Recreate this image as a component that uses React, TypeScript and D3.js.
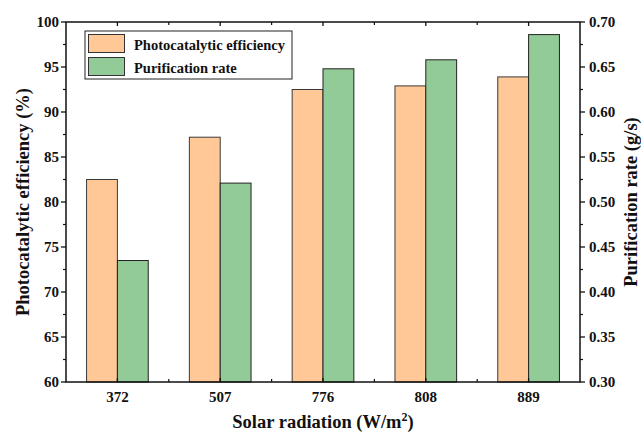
import React from "react";
import * as d3 from "d3";

const categories = ["372", "507", "776", "808", "889"];
const efficiency = [82.5, 87.2, 92.5, 92.9, 93.9];
const purification = [0.435, 0.521, 0.648, 0.658, 0.686];
const leftTicks = [60, 65, 70, 75, 80, 85, 90, 95, 100];
const rightTicks = [0.3, 0.35, 0.4, 0.45, 0.5, 0.55, 0.6, 0.65, 0.7];
const seriesNames = ["Photocatalytic efficiency", "Purification rate"];

const W = 641, H = 432;
const m = { left: 66, right: 580, top: 22, bottom: 382 };
const ORANGE = "#FFC896";
const GREEN = "#92CB98";
const FONT = "Liberation Serif";

export default function App() {
  const x = d3.scaleLinear().domain([0.5, 5.5]).range([m.left, m.right]);
  const yL = d3.scaleLinear().domain([60, 100]).range([m.bottom, m.top]);
  const yR = d3.scaleLinear().domain([0.3, 0.7]).range([m.bottom, m.top]);
  const band = x(2) - x(1);
  const bw = band * 0.3;
  const minorL = d3.range(62.5, 100, 5);
  const minorR = d3.range(0.325, 0.7, 0.05);
  const minorX = d3.range(1.5, 5.5, 1);
  const ts = { fontFamily: FONT };

  return (
    <svg width={W} height={H} style={{ position: "absolute", left: 0, top: 0, background: "#fff" }}>
      {categories.map((c, i) => (
        <g key={c}>
          <rect x={x(i + 1) - bw} y={yL(efficiency[i])} width={bw} height={m.bottom - yL(efficiency[i])}
            fill={ORANGE} stroke="#3a3a3a" strokeWidth={1} />
          <rect x={x(i + 1)} y={yR(purification[i])} width={bw} height={m.bottom - yR(purification[i])}
            fill={GREEN} stroke="#222" strokeWidth={1} />
        </g>
      ))}
      <rect x={m.left} y={m.top} width={m.right - m.left} height={m.bottom - m.top} fill="none" stroke="#111" strokeWidth={1.5} />
      {leftTicks.map(t => (
        <g key={"l" + t}>
          <line x1={m.left - 5} x2={m.left} y1={yL(t)} y2={yL(t)} stroke="#111" strokeWidth={1.3} />
          <text x={m.left - 7} y={yL(t) + 5} textAnchor="end" fontSize={15} fontWeight="bold" fill="#111" style={ts}>{t}</text>
        </g>
      ))}
      {minorL.map(t => (
        <line key={"lm" + t} x1={m.left - 3} x2={m.left} y1={yL(t)} y2={yL(t)} stroke="#111" strokeWidth={1.2} />
      ))}
      {rightTicks.map(t => (
        <g key={"r" + t}>
          <line x1={m.right} x2={m.right + 5} y1={yR(t)} y2={yR(t)} stroke="#111" strokeWidth={1.3} />
          <text x={m.right + 9} y={yR(t) + 5} textAnchor="start" fontSize={15} fontWeight="bold" fill="#111" style={ts}>{t.toFixed(2)}</text>
        </g>
      ))}
      {minorR.map(t => (
        <line key={"rm" + t} x1={m.right} x2={m.right + 3} y1={yR(t)} y2={yR(t)} stroke="#111" strokeWidth={1.2} />
      ))}
      {categories.map((c, i) => (
        <g key={"x" + c}>
          <line x1={x(i + 1)} x2={x(i + 1)} y1={m.bottom} y2={m.bottom - 4} stroke="#111" strokeWidth={1.3} />
          <line x1={x(i + 1)} x2={x(i + 1)} y1={m.top} y2={m.top + 4} stroke="#111" strokeWidth={1.3} />
          <text x={x(i + 1)} y={m.bottom + 20} textAnchor="middle" fontSize={15} fontWeight="bold" fill="#111" style={ts}>{c}</text>
        </g>
      ))}
      {minorX.map(t => (
        <g key={"xm" + t}>
          <line x1={x(t)} x2={x(t)} y1={m.bottom} y2={m.bottom - 3} stroke="#111" strokeWidth={1.2} />
          <line x1={x(t)} x2={x(t)} y1={m.top} y2={m.top + 3} stroke="#111" strokeWidth={1.2} />
        </g>
      ))}
      <text transform={`translate(29, ${(m.top + m.bottom) / 2}) rotate(-90)`} textAnchor="middle" fontSize={18.5} fontWeight="bold" fill="#111" style={ts}>
        Photocatalytic efficiency (%)
      </text>
      <text transform={`translate(637, ${(m.top + m.bottom) / 2}) rotate(-90)`} textAnchor="middle" fontSize={18.5} fontWeight="bold" fill="#111" style={ts}>
        Purification rate (g/s)
      </text>
      <text x={323} y={428} textAnchor="middle" fontSize={18.5} fontWeight="bold" fill="#111" style={ts}>
        Solar radiation (W/m<tspan dy={-7} fontSize={12}>2</tspan><tspan dy={7}>)</tspan>
      </text>
      <rect x={85} y={31} width={207} height={48} fill="#fff" stroke="#222" strokeWidth={1} />
      {[ORANGE, GREEN].map((c, i) => (
        <g key={"lg" + i}>
          <rect x={88.5} y={34.5 + i * 23} width={36} height={18} fill={c} stroke="#333" strokeWidth={1} />
          <text x={134} y={49.5 + i * 23} fontSize={14.5} fontWeight="bold" fill="#111" style={ts}>{seriesNames[i]}</text>
        </g>
      ))}
    </svg>
  );
}
